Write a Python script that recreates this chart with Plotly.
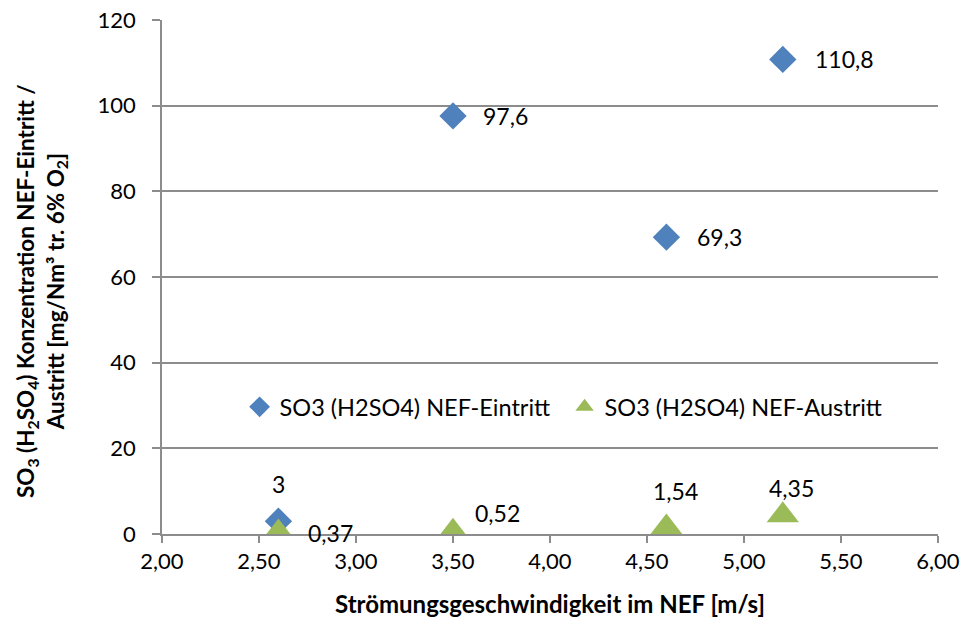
import plotly.graph_objects as go

# Data
speed = [2.6, 3.5, 4.6, 5.2]
eintritt = [3, 97.6, 69.3, 110.8]
austritt = [0.37, 0.52, 1.54, 4.35]
name_ein = "SO3 (H2SO4) NEF-Eintritt"
name_aus = "SO3 (H2SO4) NEF-Austritt"
x_title = "Strömungsgeschwindigkeit im NEF [m/s]"
y_title = ("SO<sub>3</sub> (H<sub>2</sub>SO<sub>4</sub>) Konzentration NEF-Eintritt /<br>"
           "Austritt [mg/Nm³ tr. 6% O<sub>2</sub>]")

# label placement (pixel offsets from each point)
ein_off = [("center", 0, 37), ("left", 28, 0), ("left", 29, 0), ("left", 30, 0)]
aus_off = [("left", 28, -1), ("left", 20, 19), ("center", 9, 36), ("center", 9, 27)]

def lab(v):
    return str(v).replace(".", ",")

FONT = "Lato, Open Sans, sans-serif"
GRID = "#8c8c8c"
BLUE = "#4F81BD"
GREEN = "#9BBB59"

fig = go.Figure()
fig.add_trace(go.Scatter(
    x=speed, y=eintritt, mode="markers", name=name_ein,
    marker=dict(symbol="diamond", size=21, color=BLUE),
))
fig.add_trace(go.Scatter(
    x=speed, y=austritt, mode="markers", name=name_aus,
    marker=dict(symbol="triangle-up", size=28, color=GREEN),
))

annotations = []
for xs, ys, offs in ((speed, eintritt, ein_off), (speed, austritt, aus_off)):
    for xv, yv, (anc, dx, dy) in zip(xs, ys, offs):
        annotations.append(dict(
            x=xv, y=yv, xref="x", yref="y", text=lab(yv), showarrow=False,
            xanchor=anc, yanchor="middle", xshift=dx, yshift=dy,
            font=dict(size=23, family=FONT, color="#000000")))

annotations.append(dict(
    text="<b>" + y_title + "</b>", xref="paper", yref="paper",
    x=-0.155, y=0.472, xanchor="center", yanchor="middle",
    textangle=-90, showarrow=False, font=dict(size=22.5, family=FONT, color="#000000")))

fig.update_layout(
    width=964, height=623,
    margin=dict(l=162, r=26, t=20, b=89, autoexpand=False),
    paper_bgcolor="white", plot_bgcolor="white",
    separators=",.",
    font=dict(family=FONT, size=22, color="#000000"),
    showlegend=True,
    legend=dict(orientation="h", x=0.1, y=0.247, xanchor="left", yanchor="middle",
                font=dict(size=23.5, family=FONT), bgcolor="rgba(0,0,0,0)",
                itemsizing="trace", entrywidth=280),
    xaxis=dict(range=[2, 6], dtick=0.5, tickformat=".2f", showgrid=False,
               showline=True, linecolor=GRID, linewidth=1.5, automargin=False,
               ticks="outside", ticklen=7, tickcolor=GRID, tickwidth=1.5,
               zeroline=False, tickfont=dict(size=22),
               title=dict(text="<b>" + x_title + "</b>", font=dict(size=24), standoff=23)),
    yaxis=dict(range=[0, 120], dtick=20, showgrid=True, gridcolor=GRID, gridwidth=1.5,
               showline=True, linecolor=GRID, linewidth=1.5, automargin=False,
               ticks="outside", ticklen=8, tickcolor=GRID, tickwidth=1.5,
               ticklabelstandoff=12,
               zeroline=False, tickfont=dict(size=22)),
    annotations=annotations,
)

fig.write_html("out.html", config={"displayModeBar": False},
               post_script="document.body.style.margin='0';")
